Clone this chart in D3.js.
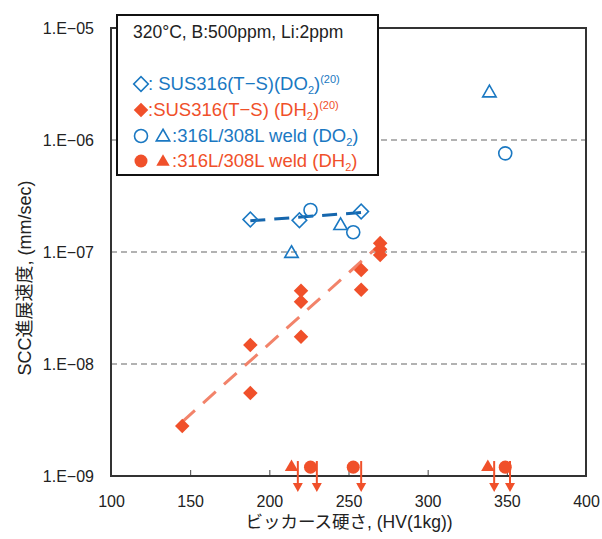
<!DOCTYPE html>
<html>
<head>
<meta charset="utf-8">
<script src="https://cdn.jsdelivr.net/npm/d3@7"></script>
<style>
  body { margin: 0; background: #fff; }
  text { font-family: "Liberation Sans", Arial, "Noto Sans CJK JP", sans-serif; }
</style>
</head>
<body>
<div id="container"></div>
<script>
// SUS316(T-S), DO2 (open diamonds)
var ssDoX = [188, 219, 258];
var ssDoY = [1.95e-7, 1.92e-7, 2.3e-7];
// SUS316(T-S), DH2 (filled diamonds)
var ssDhX = [145, 188, 188, 220, 220, 220, 258, 258, 270, 270, 270];
var ssDhY = [2.8e-9, 5.5e-9, 1.48e-8, 1.75e-8, 3.6e-8, 4.5e-8, 4.6e-8, 6.9e-8, 9.4e-8, 1.06e-7, 1.2e-7];
// 316L/308L weld, DO2
var weldDoCircleX = [226, 253, 349];
var weldDoCircleY = [2.37e-7, 1.5e-7, 7.6e-7];
var weldDoTriX = [214, 245, 339];
var weldDoTriY = [9.7e-8, 1.72e-7, 2.63e-6];
// 316L/308L weld, DH2 (below detection, drawn on the bottom with arrows)
var weldDhCircleX = [226, 253, 349];
var weldDhTriX = [214, 338];
var weldDhY = 1.2e-9;
var arrowX = [218, 230, 258, 342, 352];
var arrowTop = 1.36e-9, arrowBottom = 7.2e-10;
// trend lines
var doTrendX = [188, 258], doTrendY = [1.9e-7, 2.25e-7];
var dhTrendX = [145, 268], dhTrendY = [3.05e-9, 1.1e-7];

var xTicks = [100, 150, 200, 250, 300, 350, 400];
var yTicks = [1e-9, 1e-8, 1e-7, 1e-6, 1e-5];
var yTickLabels = ["1.E\u221209", "1.E\u221208", "1.E\u221207", "1.E\u221206", "1.E\u221205"];

var blue = "#1a78c2", red = "#f0502a";

function createChart() {
  var width = 602, height = 539;
  var pLeft = 111, pRight = 586, pTop = 28, pBottom = 476;

  var svg = d3.select("#container").append("svg").
  attr("width", width).
  attr("height", height);

  var x = d3.scaleLinear().domain([100, 400]).range([pLeft, pRight]);
  var y = d3.scaleLog().domain([1e-9, 1e-5]).range([pBottom, pTop]);

  // grid
  svg.append("g").selectAll("line").
  data([1e-8, 1e-7, 1e-6]).
  enter().append("line").
  attr("x1", pLeft).attr("x2", pRight).
  attr("y1", function (d) {return y(d);}).
  attr("y2", function (d) {return y(d);}).
  attr("stroke", "#666").
  attr("stroke-width", 1.2).
  attr("stroke-dasharray", "6,4");

  // x ticks (inside) and labels
  var xAxis = d3.axisBottom(x).tickValues(xTicks).tickSize(-6).tickPadding(20);
  var gx = svg.append("g").attr("transform", "translate(0," + pBottom + ")").call(xAxis);
  gx.select(".domain").remove();
  gx.selectAll("line").attr("stroke", "#444");
  gx.selectAll("text").attr("font-size", 16).attr("fill", "#222");

  var yAxis = d3.axisLeft(y).tickValues(yTicks).tickSize(0).tickPadding(17).
  tickFormat(function (d, i) {return yTickLabels[i];});
  var gy = svg.append("g").attr("transform", "translate(" + pLeft + ",0)").call(yAxis);
  gy.select(".domain").remove();
  gy.selectAll("text").attr("font-size", 16).attr("fill", "#222");

  // frame
  svg.append("rect").
  attr("x", pLeft).attr("y", pTop).
  attr("width", pRight - pLeft).attr("height", pBottom - pTop).
  attr("fill", "none").attr("stroke", "#333").attr("stroke-width", 2);

  // axis titles
  svg.append("text").
  attr("x", 349).attr("y", 528).
  attr("text-anchor", "middle").attr("font-size", 17.5).attr("fill", "#222").
  text("ビッカース硬さ, (HV(1kg))");
  svg.append("text").
  attr("transform", "translate(31,278) rotate(-90)").
  attr("text-anchor", "middle").attr("font-size", 18).attr("fill", "#222").
  text("SCC進展速度, (mm/sec)");

  // trend lines
  var line = d3.line().x(function (d) {return x(d[0]);}).y(function (d) {return y(d[1]);});
  svg.append("path").
  attr("d", line(d3.zip(dhTrendX, dhTrendY))).
  attr("fill", "none").attr("stroke", "#f2836a").attr("stroke-width", 3).
  attr("stroke-dasharray", "17,11");
  svg.append("path").
  attr("d", line(d3.zip(doTrendX, doTrendY))).
  attr("fill", "none").attr("stroke", "#1566ad").attr("stroke-width", 3).
  attr("stroke-dasharray", "15,9");

  var diamond = d3.symbol().type(d3.symbolSquare).size(106)();
  var circle = d3.symbol().type(d3.symbolCircle).size(133)();
  var triangle = d3.symbol().type(d3.symbolTriangle).size(78)();

  function drawMarks(xs, ys, shape, rotate, filled, color) {
    svg.append("g").selectAll("path").
    data(d3.zip(xs, ys)).
    enter().append("path").
    attr("d", shape).
    attr("transform", function (d) {
      return "translate(" + x(d[0]) + "," + y(d[1]) + ")" + (rotate ? " rotate(45)" : "");
    }).
    attr("fill", filled ? color : "none").
    attr("stroke", color).
    attr("stroke-width", filled ? 0 : 1.6);
  }

  drawMarks(ssDhX, ssDhY, diamond, true, true, red);
  drawMarks(ssDoX, ssDoY, diamond, true, false, blue);
  drawMarks(weldDoCircleX, weldDoCircleY, circle, false, false, blue);
  drawMarks(weldDoTriX, weldDoTriY, triangle, false, false, blue);
  drawMarks(weldDhCircleX, weldDhCircleX.map(function () {return weldDhY;}), circle, false, true, red);
  drawMarks(weldDhTriX, weldDhTriX.map(function () {return weldDhY;}), triangle, false, true, red);

  // arrows
  var arrows = svg.append("g").selectAll("g").data(arrowX).enter().append("g");
  arrows.append("line").
  attr("x1", function (d) {return x(d);}).attr("x2", function (d) {return x(d);}).
  attr("y1", y(arrowTop)).attr("y2", y(arrowBottom) - 6).
  attr("stroke", red).attr("stroke-width", 2);
  arrows.append("path").
  attr("d", function (d) {
    var xb = x(d), yb = y(arrowBottom);
    return "M" + (xb - 5) + "," + (yb - 9) + "L" + (xb + 5) + "," + (yb - 9) + "L" + xb + "," + yb + "Z";
  }).
  attr("fill", red);

  // legend
  var legend = svg.append("g");
  legend.append("rect").
  attr("x", 117).attr("y", 15).attr("width", 261).attr("height", 160).
  attr("fill", "#fff").attr("stroke", "#111").attr("stroke-width", 2);
  legend.append("text").
  attr("x", 133).attr("y", 38).attr("font-size", 17.5).attr("fill", "#222").
  text("320°C, B:500ppm, Li:2ppm");

  function legMark(shape, cx, cy, rotate, filled, color) {
    legend.append("path").
    attr("d", shape).
    attr("transform", "translate(" + cx + "," + cy + ")" + (rotate ? " rotate(45)" : "")).
    attr("fill", filled ? color : "none").
    attr("stroke", color).
    attr("stroke-width", filled ? 0 : 1.6);
  }
  function legText(tx, ty, color, main, sub, after, sup) {
    var t = legend.append("text").attr("x", tx).attr("y", ty).attr("font-size", 18.5).attr("fill", color);
    t.append("tspan").text(main);
    t.append("tspan").attr("font-size", 11).attr("dy", 4).text(sub);
    t.append("tspan").attr("dy", -4).text(after);
    if (sup) t.append("tspan").attr("font-size", 11).attr("dy", -7).text(sup);
  }

  legMark(diamond, 141, 84, true, false, blue);
  legText(148, 90, blue, ": SUS316(T\u2212S)(DO", "2", ")", "(20)");
  legMark(diamond, 141, 110, true, true, red);
  legText(148, 116, red, ":SUS316(T\u2212S) (DH", "2", ")", "(20)");
  legMark(circle, 141, 136, false, false, blue);
  legMark(triangle, 163, 137, false, false, blue);
  legText(172, 142, blue, ":316L/308L weld (DO", "2", ")", null);
  legMark(circle, 141, 161, false, true, red);
  legMark(triangle, 163, 162, false, true, red);
  legText(172, 167, red, ":316L/308L weld (DH", "2", ")", null);
}

window.onload = createChart;
</script>
</body>
</html>
